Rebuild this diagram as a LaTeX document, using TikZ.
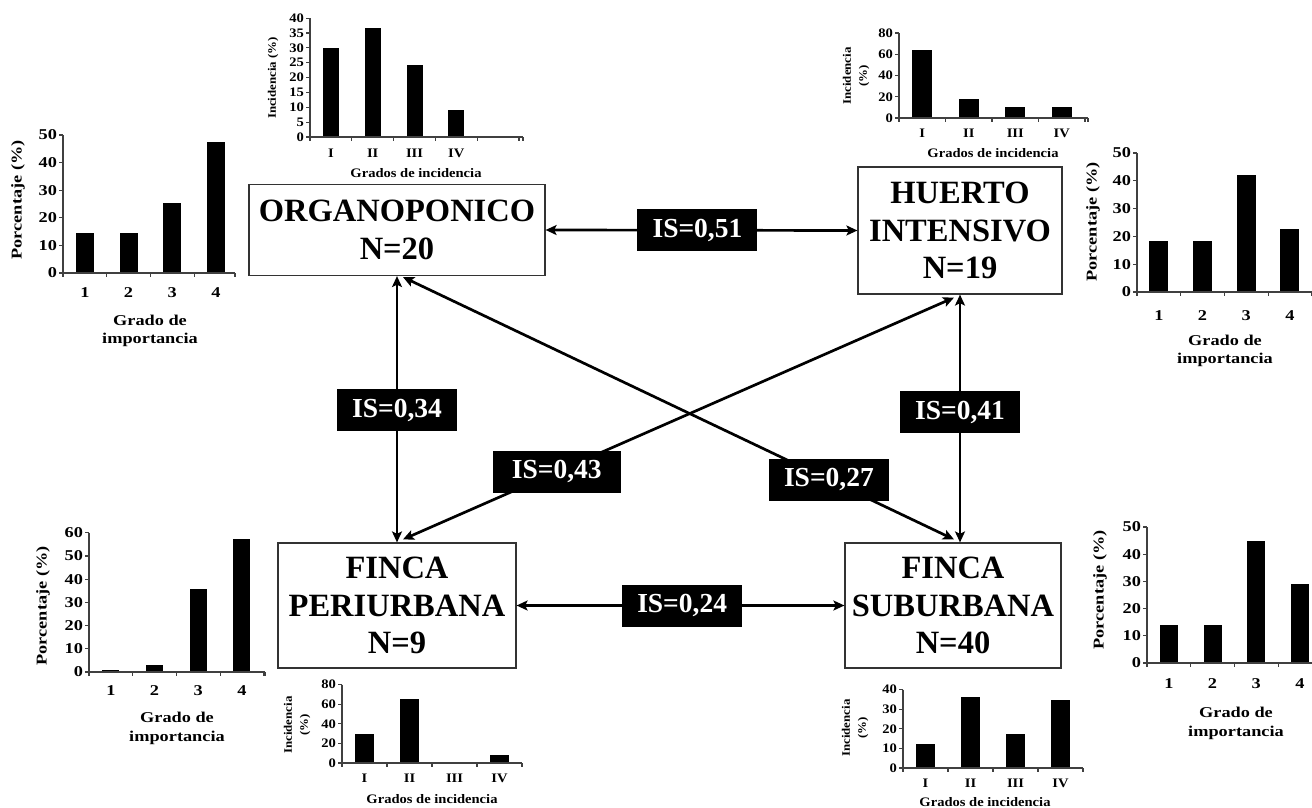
\documentclass[tikz,border=0pt]{standalone}
\usepackage{fontspec}
\setmainfont{Liberation Serif}
\newfontfamily\impfont[FakeStretch=1.22]{Liberation Serif}
\newfontfamily\incfont[FakeStretch=1.12]{Liberation Serif}
\usetikzlibrary{arrows.meta,calc}

% #1 x0, #2 y0 (baseline), #3 px per unit, #4 ymax, #5 ystep, #6 category width,
% #7 axis length, #8 bar width, #9 values
\newcommand\mkchart[9]{%
  \pgfmathtruncatemacro\nticks{#7/#6}%
  \foreach \i in {0,...,\nticks} \draw[ax] ({#1+\i*#6},#2) -- ++(0,4);
  \draw[ax] ({#1+#7},#2) -- ++(0,4);
  \foreach \v [count=\i] in {#9} \fill[barfill] ({#1+(\i-0.5)*#6-#8/2},#2) rectangle ++(#8,{-\v*#3});
  \draw[ax] (#1,{#2-#4*#3}) -- (#1,#2) -- ++(#7,0);
  \foreach \t in {0,#5,...,#4} \draw[ax] (#1,{#2-\t*#3}) -- ++(-4,0) node[ytl] {\t};
}
\newcommand\mkxlab[4]{\foreach \l [count=\i] in {#4} \node[xtl] at ({#1+(\i-0.5)*#3},#2) {\l};}

\begin{document}
\begin{tikzpicture}[x=1pt,y=-1pt,
  site/.style={draw=black!80,line width=1.2pt,fill=white,align=center,inner sep=0pt,
    font=\fontsize{32.5}{37.5}\selectfont\bfseries},
  islabel/.style={fill=black,text=white,inner sep=0pt,minimum width=120pt,minimum height=42pt,
    font=\fontsize{27.5}{29}\selectfont\bfseries},
  link/.style={line width=2.7pt,>={Stealth[length=11pt,width=10pt,inset=2.5pt]},<->},
  ax/.style={draw=black!75,line width=1.2pt},
  barfill/.style={fill=black},
  ytl/.style={anchor=east,inner sep=1.5pt},
  xtl/.style={inner sep=0pt},
  imp/.style={every node/.append style={font=\impfont\bfseries\fontsize{15}{17}\selectfont}},
  inc/.style={every node/.append style={font=\incfont\bfseries\fontsize{13}{15}\selectfont}},
  incy/.style={rotate=90,align=center,font=\incfont\bfseries\fontsize{11.5}{16}\selectfont},
]
\fill[white] (0,0) rectangle (1312,808);
\useasboundingbox (0,0) rectangle (1312,808);

% ---------- site boxes ----------
\node[site,minimum width=296pt,minimum height=91pt] (org) at (397,230) {ORGANOPONICO\\N=20};
\node[site,minimum width=204pt,minimum height=127pt] (hue) at (960,230.5) {HUERTO\\INTENSIVO\\N=19};
\node[site,minimum width=238pt,minimum height=125pt] (peri) at (397,605.5) {FINCA\\PERIURBANA\\N=9};
\node[site,minimum width=216pt,minimum height=125pt] (sub) at (953,605.5) {FINCA\\SUBURBANA\\N=40};

\coordinate (subtop) at (hue.south |- sub.north);

% ---------- connectors ----------
\draw[link] (org.east) -- node[islabel,pos=0.487] (l51) {IS=0,51} (hue.west);
\draw[link] (org.south) -- node[islabel,pos=0.504] (l34) {IS=0,34} (peri.north);
\draw[link] (hue.south) -- node[islabel,pos=0.474] (l41) {IS=0,41} (subtop);
\draw[link] ($(org.south)+(6,1)$) -- node[islabel,pos=0.773] (l27) {IS=0,27} ($(subtop)+(-6,-3)$);
\draw[link] ($(peri.north)+(6,-3)$) -- node[islabel,pos=0.279,minimum width=128pt] (l43) {IS=0,43} ($(hue.south)+(-6,3)$);
\draw[link] (peri.east) -- node[islabel,pos=0.505] (l24) {IS=0,24} (sub.west);

% ---------- importance charts ----------
\begin{scope}[imp]
  % ORGANOPONICO
  \mkchart{63}{273}{2.76}{50}{10}{43.7}{172}{18}{14.5,14.5,25.3,47.3}
  \mkxlab{63}{293}{43.7}{1,2,3,4}
  \node (c1a) at (150,320) {Grado de};
  \node (c1b) at (150,340) {importancia};
  \node[rotate=90] (c1y) at (18,200) {Porcentaje (\%)};
  % HUERTO INTENSIVO
  \mkchart{1137}{292}{2.78}{50}{10}{43.7}{180}{19}{18.2,18.2,42,22.8}
  \mkxlab{1137}{316}{43.7}{1,2,3,4}
  \node (c4a) at (1225,340) {Grado de};
  \node (c4b) at (1225,360) {importancia};
  \node[rotate=90] (c4y) at (1093,222) {Porcentaje (\%)};
  % FINCA PERIURBANA
  \mkchart{89}{672}{2.32}{60}{10}{43.7}{176}{17}{1,3.2,35.8,57.5}
  \mkxlab{89}{691}{43.7}{1,2,3,4}
  \node (c5a) at (177,717) {Grado de};
  \node (c5b) at (177,738) {importancia};
  \node[rotate=90] (c5y) at (43,606) {Porcentaje (\%)};
  % FINCA SUBURBANA
  \mkchart{1147}{663}{2.72}{50}{10}{43.7}{170}{18}{13.8,13.8,45,29}
  \mkxlab{1147}{684}{43.7}{1,2,3,4}
  \node (c8a) at (1236,712) {Grado de};
  \node (c8b) at (1236,733) {importancia};
  \node[rotate=90] (c8y) at (1100,590) {Porcentaje (\%)};
\end{scope}

% ---------- incidence charts ----------
\begin{scope}[inc]
  % ORGANOPONICO
  \mkchart{310}{137}{2.97}{40}{5}{41.8}{213}{16}{30,36.8,24.2,9.2}
  \mkxlab{310}{153}{41.8}{I,II,III,IV}
  \node (c2a) at (416,173) {Grados de incidencia};
  \node[incy] (c2y) at (273,78) {Incidencia (\%)};
  % HUERTO INTENSIVO
  \mkchart{899}{118}{1.0625}{80}{20}{46.5}{189}{20}{64,17.5,10.5,10.5}
  \mkxlab{899}{133}{46.5}{I,II,III,IV}
  \node (c3a) at (993,153) {Grados de incidencia};
  \node[incy] (c3y) at (856,76) {Incidencia\\(\%)};
  % FINCA PERIURBANA
  \mkchart{342}{763}{0.98}{80}{20}{45}{180}{19}{29.5,65,0,7.8}
  \mkxlab{342}{778}{45}{I,II,III,IV}
  \node (c6a) at (432,799) {Grados de incidencia};
  \node[incy] (c6y) at (297,725) {Incidencia\\(\%)};
  % FINCA SUBURBANA
  \mkchart{903}{768}{1.96}{40}{10}{45}{180}{19}{12.4,36.2,17.5,34.5}
  \mkxlab{903}{783}{45}{I,II,III,IV}
  \node (c7a) at (985,802) {Grados de incidencia};
  \node[incy] (c7y) at (855,728) {Incidencia\\(\%)};
\end{scope}
\end{tikzpicture}
\end{document}
